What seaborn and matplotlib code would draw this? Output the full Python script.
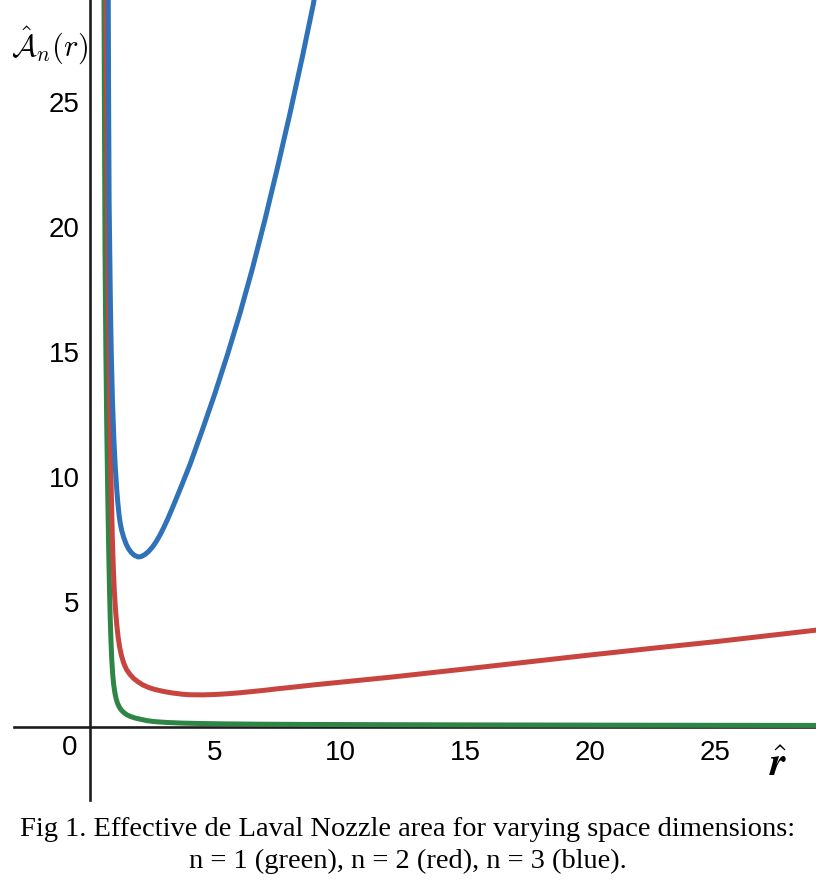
import numpy as np
import pandas as pd
import matplotlib
matplotlib.use("Agg")
import matplotlib.pyplot as plt
import seaborn as sns

# values
blue_r = [0.73, 0.745, 0.765, 0.79, 0.815, 0.85, 0.9, 0.955, 1.005, 1.07, 1.11,
          1.16, 1.21, 1.27, 1.35, 1.44, 1.54, 1.65, 1.77, 1.93, 2.05, 2.2, 2.35,
          2.5, 2.65, 2.8, 2.95, 3.1, 3.3, 3.6, 4.0, 4.5, 5.0, 5.5, 6.0, 6.5, 7.0,
          7.5, 8.0, 8.5, 8.93, 9.0]
blue_a = [29.1, 25.0, 21.0, 19.0, 17.0, 15.0, 13.0, 11.5, 10.5, 9.5, 9.0,
          8.5, 8.15, 7.85, 7.58, 7.33, 7.13, 6.98, 6.87, 6.8, 6.82, 6.9, 7.03,
          7.2, 7.42, 7.68, 7.98, 8.3, 8.77, 9.5, 10.5, 11.9, 13.35, 14.9, 16.55,
          18.35, 20.3, 22.38, 24.55, 26.83, 28.9, 29.3]

red_r = [0.64, 0.675, 0.71, 0.76, 0.805, 0.85, 0.895, 0.935, 0.975, 1.02, 1.07,
         1.125, 1.185, 1.26, 1.35, 1.46, 1.6, 1.76, 1.93, 2.12, 2.35, 2.6, 2.95,
         3.3, 3.7, 4.0, 4.5, 5.0, 5.5, 6.0, 6.5, 7.0, 7.5, 8.0, 9.0, 10.0, 11.0,
         12.0, 13.0, 15.0, 17.5, 20.0, 22.5, 25.0, 27.0, 29.1]
red_a = [29.1, 24.0, 19.1, 15.1, 12.0, 9.5, 7.5, 6.3, 5.4, 4.7, 4.1,
         3.6, 3.2, 2.85, 2.55, 2.3, 2.1, 1.93, 1.8, 1.68, 1.58, 1.5, 1.42,
         1.36, 1.31, 1.29, 1.285, 1.3, 1.33, 1.37, 1.42, 1.47, 1.53, 1.58, 1.69,
         1.79, 1.89, 1.99, 2.1, 2.32, 2.6, 2.88, 3.15, 3.41, 3.64, 3.88]

green_r = [0.56, 0.58, 0.6, 0.635, 0.67, 0.715, 0.75, 0.78, 0.81, 0.84, 0.87,
           0.905, 0.945, 0.99, 1.04, 1.1, 1.17, 1.25, 1.35, 1.47, 1.62, 1.8, 2.02,
           2.3, 2.65, 3.1, 3.7, 4.4, 5.4, 6.8, 8.5, 11.0, 15.0, 20.0, 25.0, 29.1]
green_a = [29.1, 24.0, 19.1, 15.0, 12.0, 9.0, 7.0, 5.5, 4.3, 3.4, 2.7,
           2.15, 1.72, 1.4, 1.15, 0.95, 0.8, 0.68, 0.58, 0.49, 0.42, 0.36, 0.31,
           0.25, 0.21, 0.18, 0.155, 0.14, 0.125, 0.112, 0.103, 0.095, 0.085, 0.075,
           0.068, 0.063]

x_ticks = [5, 10, 15, 20, 25]
y_ticks = [5, 10, 15, 20, 25]

caption = ["Fig 1. Effective de Laval Nozzle area for varying space dimensions:",
           "n = 1 (green), n = 2 (red), n = 3 (blue)."]

GREEN = "#2f8545"
RED = "#c8443f"
BLUE = "#2f72b8"
AXC = "#1e1e1e"

sns.set_style("white")
plt.rcParams["font.family"] = ["Liberation Sans", "DejaVu Sans"]
plt.rcParams["mathtext.fontset"] = "cm"
plt.rcParams["text.color"] = "black"

fig = plt.figure(figsize=(8.16, 8.85), dpi=100)
ax = fig.add_axes([14 / 816, 1 - 800 / 885, 1 - 14 / 816, 800 / 885])

for r, a, c in [(green_r, green_a, GREEN), (red_r, red_a, RED), (blue_r, blue_a, BLUE)]:
    d = pd.DataFrame({"r": r, "a": a})
    sns.lineplot(data=d, x="r", y="a", sort=False, color=c, lw=3.6, ax=ax,
                 zorder=3)

ax.set_xlim(-3.04, 29.04)
ax.set_ylim(-2.92, 29.08)

for s in ["top", "right"]:
    ax.spines[s].set_visible(False)
for s in ["left", "bottom"]:
    ax.spines[s].set_position(("data", 0))
    ax.spines[s].set_color(AXC)
    ax.spines[s].set_linewidth(1.9)
    ax.spines[s].set_zorder(2)

ax.set_xticks(x_ticks)
ax.set_yticks(y_ticks)
ax.tick_params(axis="both", direction="inout", length=7, width=1.8,
               color=AXC, labelsize=20, labelcolor="black")
ax.tick_params(axis="x", pad=6)
ax.tick_params(axis="y", pad=4)
ax.set_xlabel("")
ax.set_ylabel("")

ax.text(-0.8, -0.84, "0", fontsize=20, ha="center", va="center")
ax.text(-1.6, 27.25, r"$\hat{\mathcal{A}}_n(r)$", fontsize=22, ha="center", va="center")
ax.text(27.52, -1.5, r"$\hat{\mathbfit{r}}$", fontsize=29, ha="center", va="center")

fig.text(0.5, 1 - 830 / 885, caption[0], family="Liberation Serif", fontsize=20.5,
         color="black", ha="center", va="center")
fig.text(0.5, 1 - 861 / 885, caption[1], family="Liberation Serif", fontsize=20.5,
         color="black", ha="center", va="center")

fig.savefig("out.png", dpi=100, facecolor="white")
